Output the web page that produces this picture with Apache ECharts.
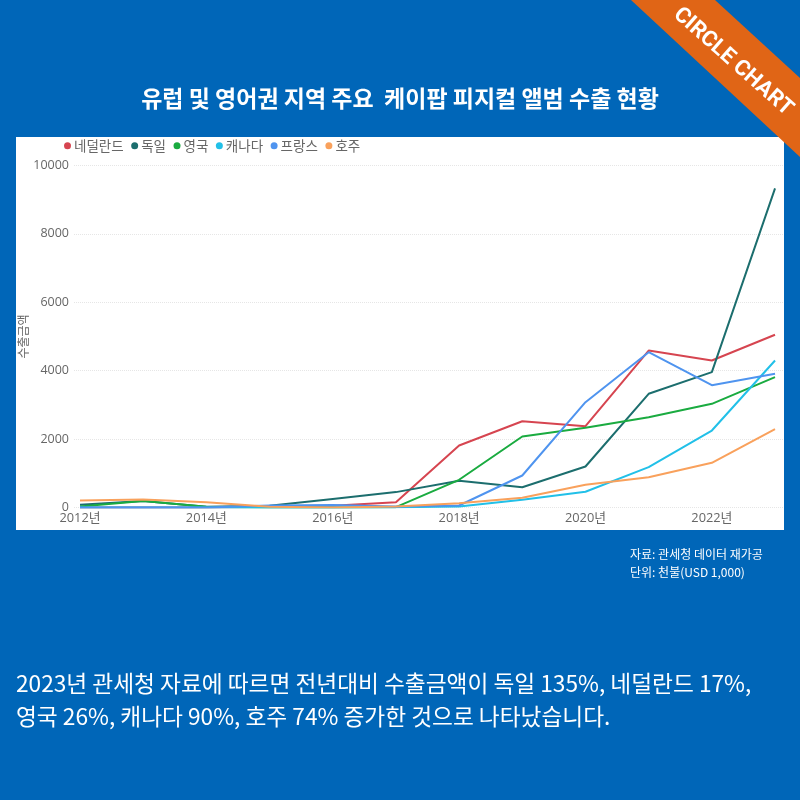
<!DOCTYPE html>
<html><head><meta charset="utf-8">
<style>html,body{margin:0;padding:0;background:#0066b8}#c{width:800px;height:800px}</style>
<script src="https://cdn.jsdelivr.net/npm/echarts@6/dist/echarts.min.js"></script></head>
<body><div id="c"></div>
<script>
const years=[2012,2013,2014,2015,2016,2017,2018,2019,2020,2021,2022,2023];
const labelYears=[2012,2014,2016,2018,2020,2022];
const netherlands=[0,0,0,20,50,155,1813,2523,2377,4590,4298,5050];
const germany=[80,190,20,50,250,450,780,594,1199,3324,3957,9330];
const uk=[30,190,20,0,0,10,810,2076,2330,2641,3031,3811];
const canada=[0,0,0,0,0,10,30,225,459,1179,2251,4298];
const france=[0,0,0,60,70,30,58,936,3080,4542,3577,3908];
const australia=[205,235,150,20,0,30,126,284,663,886,1307,2290];
const seriesNames=['네덜란드','독일','영국','캐나다','프랑스','호주'];
const seriesValues=[netherlands,germany,uk,canada,france,australia];
const colors=['#d64550','#1c6e6e','#1aab40','#22c0e8','#4f94ef','#f9a15c'];
const kr='"Noto Sans CJK KR"';
const grey='#666666';
const chart=echarts.init(document.getElementById('c'),null,{renderer:'canvas'});
chart.setOption({
  animation:false,
  backgroundColor:'#0066b8',
  textStyle:{fontFamily:kr},
  legend:{left:62,top:138,itemWidth:7,itemHeight:7,itemGap:7.5,icon:'circle',padding:[1,0,0,2],
    textStyle:{color:grey,fontSize:13.5,fontFamily:kr,padding:[0,0,0,-2]},data:seriesNames},
  grid:{left:74,right:16,top:165.5,bottom:292.5},
  xAxis:{type:'value',min:2011.905,max:2023.142,
    axisLine:{show:false},axisTick:{show:false},splitLine:{show:false},
    axisLabel:{customValues:labelYears,formatter:v=>v+'년',color:grey,fontSize:12.8,margin:4,fontFamily:'"Open Sans",'+kr}},
  yAxis:{type:'value',min:0,max:10000,interval:2000,
    axisLine:{show:false},axisTick:{show:false},
    splitLine:{lineStyle:{color:'#e6e6e6',type:'dotted',width:1}},
    axisLabel:{formatter:v=>String(v),color:grey,fontSize:12.5,margin:5,padding:[2,0,0,0],fontFamily:'"Open Sans",'+kr},
    name:'수출금액',nameLocation:'middle',nameGap:45,nameRotate:90,nameMoveOverlap:false,
    nameTextStyle:{color:grey,fontSize:12,fontFamily:kr}},
  series:seriesNames.map((n,i)=>({name:n,type:'line',showSymbol:false,symbol:'circle',
    itemStyle:{color:colors[i]},lineStyle:{color:colors[i],width:2},
    data:years.map((y,j)=>[y,seriesValues[i][j]]),z:3+i})),
  graphic:[
    {type:'rect',z:-1,silent:true,shape:{x:16,y:137,width:768,height:393},style:{fill:'#ffffff'}},
    {type:'polygon',z:5,shape:{points:[[631,0],[715,0],[800,78],[800,157]]},style:{fill:'#e06516'}},
    {type:'text',z:6,x:733,y:62,rotation:-41.5*Math.PI/180,
      style:{text:'CIRCLE CHART',fill:'#fff',font:'700 22px Roboto',align:'center',verticalAlign:'middle'}},
    {type:'text',z:6,x:400,y:98,style:{text:'유럽 및 영어권 지역 주요  케이팝 피지컬 앨범 수출 현황',fill:'#fff',
      font:'700 23px '+kr,align:'center',verticalAlign:'middle'}},
    {type:'text',z:6,x:630,y:554,style:{text:'자료: 관세청 데이터 재가공',fill:'#fff',font:'400 12px '+kr,verticalAlign:'middle'}},
    {type:'text',z:6,x:630,y:572,style:{text:'단위: 천불(USD 1,000)',fill:'#fff',font:'400 12px '+kr,verticalAlign:'middle'}},
    {type:'text',z:6,x:16,y:683,style:{text:'2023년 관세청 자료에 따르면 전년대비 수출금액이 독일 135%, 네덜란드 17%,',fill:'#fff',font:'400 22.7px '+kr,verticalAlign:'middle'}},
    {type:'text',z:6,x:16,y:716,style:{text:'영국 26%, 캐나다 90%, 호주 74% 증가한 것으로 나타났습니다.',fill:'#fff',font:'400 22.7px '+kr,verticalAlign:'middle'}}
  ]
});
</script></body></html>
